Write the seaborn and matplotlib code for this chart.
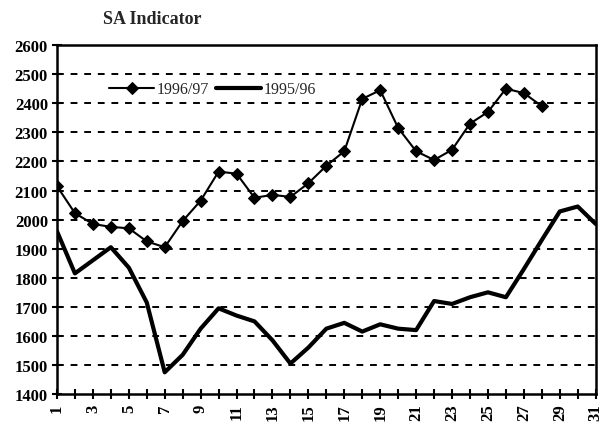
import matplotlib
matplotlib.use("Agg")
import matplotlib.pyplot as plt
import seaborn as sns
import pandas as pd

days_9697 = list(range(1, 29))
values_9697 = [2115, 2022, 1985, 1975, 1970, 1925, 1905, 1995, 2065, 2165,
               2158, 2075, 2085, 2078, 2125, 2185, 2235, 2415, 2445, 2315,
               2235, 2205, 2240, 2330, 2370, 2450, 2435, 2390]

days_9596 = list(range(1, 32))
values_9596 = [1960, 1815, 1860, 1905, 1835, 1715, 1475, 1535, 1625, 1695,
               1670, 1650, 1585, 1505, 1560, 1625, 1645, 1615, 1640, 1625,
               1620, 1720, 1710, 1733, 1750, 1733, 1830, 1930, 2028, 2045,
               1985]

series_names = ["1996/97", "1995/96"]
y_ticks = list(range(1400, 2700, 100))
x_ticks = list(range(1, 32))
x_labels = [str(d) if d % 2 == 1 else "" for d in x_ticks]

sns.set_theme(style="white")
plt.rcParams["font.family"] = ["Liberation Serif", "DejaVu Serif"]

fig = plt.figure(figsize=(6.06, 4.39), dpi=100)
ax = fig.add_axes([0.094, 0.100, 0.889, 0.795])

df1 = pd.DataFrame({"day": days_9697, "value": values_9697})
df2 = pd.DataFrame({"day": days_9596, "value": values_9596})

sns.lineplot(data=df1, x="day", y="value", ax=ax, color="black", lw=1.5,
             marker="D", markersize=6.5, markeredgecolor="black",
             label=series_names[0], zorder=4)
sns.lineplot(data=df2, x="day", y="value", ax=ax, color="black", lw=3.0,
             label=series_names[1], zorder=3)

ax.set_xlim(1, 31)
ax.set_ylim(1400, 2600)
ax.set_yticks(y_ticks)
ax.set_yticklabels([str(v) for v in y_ticks], fontsize=12, fontweight="bold")
ax.set_xticks(x_ticks)
ax.set_xticklabels(x_labels, fontsize=12, fontweight="bold", rotation=90)
ax.set_xlabel("")
ax.set_ylabel("")

for v in y_ticks[1:-1]:
    ax.axhline(v, color="black", lw=1.4, ls=(0, (3.5, 3.5)), zorder=1)

for s in ["left", "bottom", "top", "right"]:
    ax.spines[s].set_visible(True)
    ax.spines[s].set_color("black")
    ax.spines[s].set_linewidth(1.8)

ax.tick_params(axis="both", which="major", direction="inout", length=7,
               width=1.5, color="black", left=True, bottom=True, pad=3,
               labelcolor="black")
ax.grid(False)

leg = ax.legend(loc="upper left", bbox_to_anchor=(0.085, 0.915), ncol=2,
                frameon=False, fontsize=11.5, handlelength=2.8,
                columnspacing=0.4, handletextpad=0.2, borderaxespad=0)

fig.text(0.17, 0.955, "SA Indicator", fontsize=13, fontweight="bold",
         ha="left", va="center")

fig.savefig("out.png", dpi=100)
